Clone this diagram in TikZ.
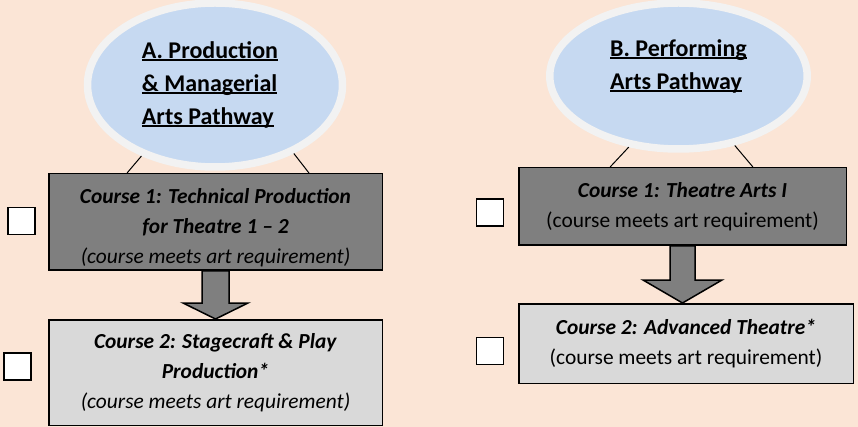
\documentclass[tikz,border=0pt]{standalone}
\usepackage{fontspec}
\setmainfont{Carlito}
\usetikzlibrary{shapes.geometric,calc}

\definecolor{peachbg}{HTML}{FBE5D6}
\definecolor{pathblue}{HTML}{C6D9F1}
\definecolor{pathrim}{HTML}{F2F2F2}
\definecolor{coursedark}{HTML}{7F7F7F}
\definecolor{courselight}{HTML}{D9D9D9}

% thick word-style underline
\newcommand{\pathul}[1]{\setbox0\hbox{#1}\rlap{\rule[-2.6pt]{\wd0}{1.8pt}}\box0}

\begin{document}
\begin{tikzpicture}[
        %Environment config
        x=1pt, y=-1pt,
        font=\fontsize{21.4}{30}\selectfont,
        %Environment styles
        PathCfg/.style={
            ellipse,
            draw=pathrim,
            fill=pathblue,
            line width=7.5pt,
            inner sep=0pt
        },
        PathText/.style={
            font=\fontsize{24}{33}\selectfont\bfseries,
            align=left
        },
        CourseCfg/.style={
            draw,
            line width=1.5pt,
            inner sep=0pt,
            align=center
        },
        BoxCfg/.style={
            draw,
            fill=white,
            line width=1.6pt,
            minimum size=27pt,
            inner sep=0pt
        },
        ArrowCfg/.style={
            draw,
            fill=coursedark,
            line width=1.5pt
        }
    ]
    \fill[peachbg] (0,0) rectangle (858,427);
    \useasboundingbox (0,0) rectangle (858,427);

    % pathway A
    \path
        (215,85) node[PathCfg, minimum width=255pt, minimum height=164pt,
            label={[PathText, xshift=-5pt]center:{\pathul{A. Production}\\\pathul{\& Managerial}\\\pathul{Arts Pathway}}}](pathA){}
        (215.5,222) node[CourseCfg, fill=coursedark, minimum width=333.5pt, minimum height=96.5pt,
            label={[align=center, yshift=-6pt]center:{\textbf{\textit{Course 1: Technical Production}}\\\textbf{\textit{for Theatre 1 – 2}}\\\textit{(course meets art requirement)}}}](courseA1){}
        (215.5,372.5) node[CourseCfg, fill=courselight, minimum width=333.5pt, minimum height=105.5pt]
            (courseA2){\textbf{\textit{Course 2: Stagecraft \& Play}}\\\textbf{\textit{Production*}}\\\textit{(course meets art requirement)}}
        (21.5,221) node[BoxCfg](tickA1){}
        (17.5,366.5) node[BoxCfg](tickA2){};

    % pathway B
    \path
        (678.5,76) node[PathCfg, minimum width=257.5pt, minimum height=146pt,
            label={[PathText, yshift=9.5pt]center:{\pathul{B. Performing}\\\pathul{Arts Pathway}}}](pathB){}
        (682.5,206.5) node[CourseCfg, fill=coursedark, minimum width=327.5pt, minimum height=77.5pt]
            (courseB1){\textbf{\textit{Course 1: Theatre Arts I}}\\(course meets art requirement)}
        (686,343.5) node[CourseCfg, fill=courselight, minimum width=334.5pt, minimum height=79.5pt]
            (courseB2){\textbf{\textit{Course 2: Advanced Theatre*}}\\(course meets art requirement)}
        (490,212.5) node[BoxCfg](tickB1){}
        (490,351) node[BoxCfg](tickB2){};

    \draw[line width=1pt]
        (pathA.224.6) -- ($(courseA1.north west)!0.236!(courseA1.north east)$)
        (pathA.-41.9) -- ($(courseA1.north west)!0.779!(courseA1.north east)$)
        (pathB.235.8) -- ($(courseB1.north west)!0.28!(courseB1.north east)$)
        (pathB.-51.4) -- ($(courseB1.north west)!0.714!(courseB1.north east)$);

    \draw[ArrowCfg]
        ([xshift=-13.5pt]courseA1.south) -- ++(0,32) -- ++(-19,0)
            -- (courseA1.south |- courseA2.north) -- ++(32.5,-16) -- ++(-19,0) -- ++(0,-32) -- cycle
        ([xshift=-12.5pt]courseB1.south) -- ++(0,34) -- ++(-27,0)
            -- (courseB1.south |- courseB2.north) -- ++(39.5,-23) -- ++(-27,0) -- ++(0,-34) -- cycle;
\end{tikzpicture}
\end{document}
